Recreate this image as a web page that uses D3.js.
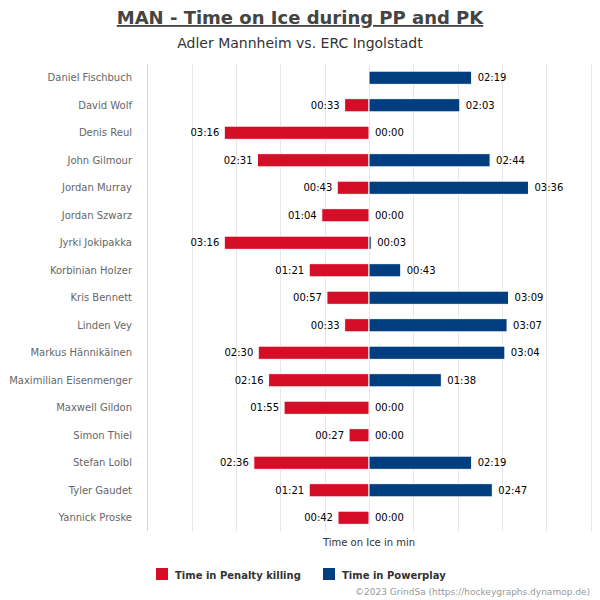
<!DOCTYPE html>
<html><head><meta charset="utf-8">
<script src="https://cdn.jsdelivr.net/npm/d3@7"></script>
<style>body{margin:0;background:#fff}svg{display:block;font-family:"DejaVu Sans",sans-serif}</style>
</head><body>
<script>
const players = ["Daniel Fischbuch","David Wolf","Denis Reul","John Gilmour","Jordan Murray","Jordan Szwarz","Jyrki Jokipakka","Korbinian Holzer","Kris Bennett","Linden Vey","Markus Hännikäinen","Maximilian Eisenmenger","Maxwell Gildon","Simon Thiel","Stefan Loibl","Tyler Gaudet","Yannick Proske"];
// seconds
const penaltyKilling = [null,33,196,151,43,64,196,81,57,33,150,136,115,27,156,81,42];
const powerplay = [139,123,0,164,216,0,3,43,189,187,184,98,0,0,139,167,0];
const xTicks = [-5,-4,-3,-2,-1,0,1,2,3,4,5];
const seriesNames = ["Time in Penalty killing","Time in Powerplay"];
const colors = ["#d40e26","#013e7f"];

const W=600,H=600;
const svg=d3.select("body").append("svg").attr("width",W).attr("height",H);
const x=d3.scaleLinear().domain([-5,5]).range([147.5,590.5]);
const y=d3.scaleBand().domain(players).range([64,531.5]).paddingInner(0.52).paddingOuter(0.26);
const fmt=s=>{const m=Math.floor(s/60),r=s%60;return String(m).padStart(2,"0")+":"+String(r).padStart(2,"0");};

// title
svg.append("text").attr("x",300).attr("y",24).attr("text-anchor","middle")
 .attr("font-size",18).attr("font-weight","bold").attr("fill","#444").attr("text-decoration","underline")
 .text("MAN - Time on Ice during PP and PK");
svg.append("text").attr("x",300).attr("y",48).attr("text-anchor","middle")
 .attr("font-size",14).attr("fill","#333").text("Adler Mannheim vs. ERC Ingolstadt");

// grid
svg.append("g").selectAll("line").data(xTicks.slice(1)).join("line")
 .attr("x1",d=>Math.round(x(d))+0.5).attr("x2",d=>Math.round(x(d))+0.5)
 .attr("y1",64).attr("y2",531).attr("stroke","#e6e6e6");
svg.append("line").attr("x1",147.5).attr("x2",147.5).attr("y1",64).attr("y2",531).attr("stroke","#ccd6eb");

// category labels
svg.append("g").selectAll("text").data(players).join("text")
 .attr("x",132).attr("y",d=>y(d)+y.bandwidth()/2).attr("dy","0.35em")
 .attr("text-anchor","end").attr("font-size",10).attr("fill","#666").text(d=>d);

// bars
const pkData=players.map((p,i)=>({p,v:penaltyKilling[i]})).filter(d=>d.v!==null);
const ppData=players.map((p,i)=>({p,v:powerplay[i]}));
svg.append("g").selectAll("rect").data(pkData).join("rect")
 .attr("x",d=>x(-d.v/60)).attr("width",d=>x(0)-x(-d.v/60))
 .attr("y",d=>y(d.p)).attr("height",y.bandwidth())
 .attr("fill",colors[0]).attr("stroke","#fff").attr("stroke-width",1);
svg.append("g").selectAll("rect").data(ppData.filter(d=>d.v>0)).join("rect")
 .attr("x",x(0)).attr("width",d=>x(d.v/60)-x(0))
 .attr("y",d=>y(d.p)).attr("height",y.bandwidth())
 .attr("fill",colors[1]).attr("stroke","#fff").attr("stroke-width",1);

// value labels
svg.append("g").selectAll("text").data(pkData).join("text")
 .attr("x",d=>x(-d.v/60)-5).attr("y",d=>y(d.p)+y.bandwidth()/2).attr("dy","0.35em")
 .attr("text-anchor","end").attr("font-size",10).attr("fill","#000").text(d=>fmt(d.v));
svg.append("g").selectAll("text").data(ppData).join("text")
 .attr("x",d=>x(d.v/60)+6).attr("y",d=>y(d.p)+y.bandwidth()/2).attr("dy","0.35em")
 .attr("text-anchor","start").attr("font-size",10).attr("fill","#000").text(d=>fmt(d.v));

// axis title
svg.append("text").attr("x",x(0)).attr("y",546).attr("text-anchor","middle")
 .attr("font-size",10).attr("fill","#333").text("Time on Ice in min");

// legend
const lg=svg.append("g");
const lx=[156,323];
seriesNames.forEach((n,i)=>{
 lg.append("rect").attr("x",lx[i]).attr("y",568).attr("width",12).attr("height",12).attr("fill",colors[i]);
 lg.append("text").attr("x",lx[i]+19).attr("y",579).attr("font-size",10).attr("font-weight","bold").attr("fill","#333").text(n);
});

// credits
svg.append("text").attr("x",590).attr("y",595).attr("text-anchor","end")
 .attr("font-size",9).attr("fill","#999").text("©2023 GrindSa (https://hockeygraphs.dynamop.de)");
</script>
</body></html>
